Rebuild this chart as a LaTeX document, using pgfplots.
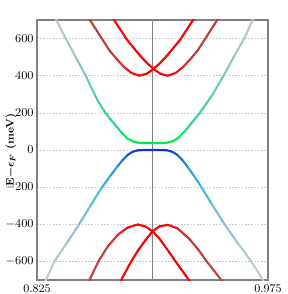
\documentclass[border=0pt]{standalone}
\usepackage{pgfplots}
\pgfplotsset{compat=1.18}
\usepackage{bm}

\pgfplotsset{
colormap={cond}{rgb255(0cm)=(0,232,70) rgb255(0.08cm)=(30,222,120) rgb255(0.25cm)=(62,208,168) rgb255(0.55cm)=(120,202,192) rgb255(0.85cm)=(182,197,197) rgb255(1cm)=(205,188,188)},
colormap={val}{rgb255(0cm)=(5,55,225) rgb255(0.04cm)=(20,95,220) rgb255(0.14cm)=(40,155,212) rgb255(0.3cm)=(75,182,210) rgb255(0.57cm)=(130,196,210) rgb255(0.85cm)=(185,202,206) rgb255(1cm)=(205,205,205)},
colormap={redb}{rgb255(0cm)=(255,0,0) rgb255(0.4cm)=(220,40,40) rgb255(1cm)=(185,65,62)},
}

\begin{document}
\begin{tikzpicture}
\begin{axis}[name=ax, scale only axis, width=173.25pt, height=195pt,
  xmin=0.825, xmax=0.975, ymin=-700, ymax=700,
  xtick={0.825,0.975}, xticklabels={0.825,0.975},
  ytick={-600,-400,...,600},
  ymajorgrids,
  major grid style={gray!40, dash pattern=on 1.2pt off 1.2pt, line width=0.5pt},
  major tick length=0pt,
  axis line style={gray, line width=0.8pt},
  tick label style={font=\fontsize{8.8}{10}\selectfont},
  yticklabel style={xshift=1pt},
  ylabel={\textbf{E}$\bm{-\epsilon_F}$ \textbf{(meV)}},
  ylabel style={at={(axis description cs:-0.113,0.5)}, anchor=center, font=\fontsize{8}{9}\selectfont},
  point meta min=0, point meta max=1,
  every axis plot/.append style={line width=1.6pt, line cap=round, line join=round},
]
\addplot[gray, line width=1.2pt] coordinates {(0.9,-700) (0.9,700)};

% conduction band
\addplot[mesh, colormap name=cond, point meta=explicit] table[x=k, y=E, meta=t] {
k E t
0.83435 755 1
0.8376 700 1
0.84365 600 0.849
0.85015 500 0.698
0.85665 400 0.548
0.86263 295 0.389
0.86555 250 0.321
0.8688 208 0.258
0.8727 165 0.193
0.8766 127 0.136
0.8805 88 0.077
0.88375 62 0.038
0.8870 47 0.015
0.89025 40 0.005
0.8935 37.5 0
0.9000 37 0
0.9065 37.5 0
0.90975 40 0.005
0.9130 47 0.015
0.91625 62 0.038
0.9195 88 0.077
0.9234 125 0.133
0.9273 165 0.193
0.9312 205 0.253
0.9351 252 0.324
0.9390 298 0.394
0.94615 400 0.548
0.95265 500 0.698
0.95948 600 0.849
0.9650 700 1
0.9676 750 1
};

% valence band
\addplot[mesh, colormap name=val, point meta=explicit] table[x=k, y=E, meta=t] {
k E t
0.8285 -745 1
0.83078 -700 1
0.8363 -600 0.857
0.84443 -500 0.714
0.85236 -400 0.571
0.8597 -300 0.429
0.86685 -205 0.293
0.8727 -138 0.197
0.87725 -88 0.126
0.8805 -55 0.079
0.88375 -27 0.039
0.8870 -10 0.014
0.89025 -2 0.003
0.8935 -0.5 0
0.9 0 0
0.9065 -0.5 0
0.90975 -2 0.003
0.9130 -10 0.014
0.91625 -27 0.039
0.9195 -55 0.079
0.92275 -90 0.129
0.92665 -136 0.194
0.931 -190 0.271
0.93835 -290 0.414
0.9468 -400 0.571
0.95525 -500 0.714
0.96416 -600 0.857
0.9717 -700 1
0.97345 -735 1
};

% upper red band A
\addplot[mesh, colormap name=redb, point meta=explicit] table[x=k, y=E, meta=t] {
k E t
0.8571 735 1
0.85938 700 1
0.87205 536 0.907
0.8766 491 0.607
0.8818 445 0.3
0.88635 415 0.1
0.89155 400 0
0.8961 410 0
0.9 432 0
0.90455 465 0
0.9091 505 0
0.91755 589 0
0.92633 700 0
0.92795 730 0
};
% upper red band B
\addplot[mesh, colormap name=redb, point meta=explicit] table[x=k, y=E, meta=t] {
k E t
0.87345 730 0
0.87507 700 0
0.88385 589 0
0.8923 505 0
0.89685 465 0
0.9014 432 0
0.9053 410 0
0.90985 400 0
0.91505 415 0.1
0.9196 445 0.3
0.9248 491 0.607
0.92935 536 0.907
0.94202 700 1
0.9443 735 1
};
% lower red band C
\addplot[mesh, colormap name=redb, point meta=explicit] table[x=k, y=E, meta=t] {
k E t
0.8571 -735 1
0.85905 -700 1
0.8649 -600 1
0.87095 -519 0.79
0.87745 -457 0.37
0.88375 -418 0.11
0.89045 -401 0
0.89545 -412 0
0.9 -438 0
0.90455 -478 0
0.9091 -530 0
0.9143 -592 0
0.91885 -645 0
0.9236 -700 0
0.92646 -735 0
};
% lower red band D
\addplot[mesh, colormap name=redb, point meta=explicit] table[x=k, y=E, meta=t] {
k E t
0.87823 -735 0
0.87966 -700 0
0.88616 -600 0
0.8909 -537 0
0.89545 -485 0
0.9 -438 0
0.90455 -411 0
0.90995 -403 0
0.91625 -422 0.127
0.92405 -480 0.52
0.9299 -538 0.9
0.9349 -597 1
0.93998 -650 1
0.94466 -700 1
0.9468 -725 1
};
\end{axis}
\pgfresetboundingbox
\path ([shift={(-27.75pt,-10.5pt)}]ax.south west) rectangle ([shift={(14.25pt,15pt)}]ax.north east);
\end{tikzpicture}
\end{document}
